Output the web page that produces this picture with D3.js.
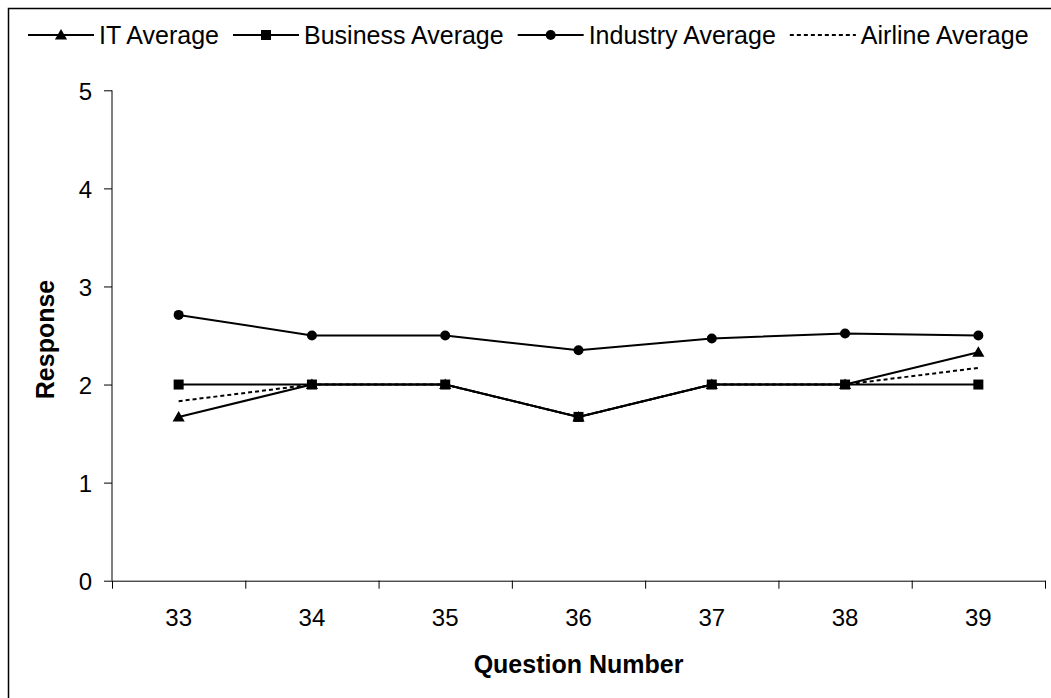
<!DOCTYPE html>
<html>
<head>
<meta charset="utf-8">
<script src="https://cdn.jsdelivr.net/npm/d3@7"></script>
<style>
  html, body { margin: 0; padding: 0; background: #fff; }
  svg { display: block; }
  text { font-family: "Liberation Sans", Arial, sans-serif; fill: #000; }
</style>
</head>
<body>
<svg id="chart" width="1051" height="698"></svg>
<script>
// Survey responses per question
const questions = ["33", "34", "35", "36", "37", "38", "39"];
const itAverage       = [1.67, 2.00, 2.00, 1.67, 2.00, 2.00, 2.33];
const businessAverage = [2.00, 2.00, 2.00, 1.67, 2.00, 2.00, 2.00];
const industryAverage = [2.71, 2.50, 2.50, 2.35, 2.47, 2.52, 2.50];
const airlineAverage  = [1.83, 2.00, 2.00, 1.67, 2.00, 2.00, 2.17];
const yTicks = [0, 1, 2, 3, 4, 5];

const series = [
  { name: "IT Average",       values: itAverage,       marker: "triangle", dash: null },
  { name: "Business Average", values: businessAverage, marker: "square",   dash: null },
  { name: "Industry Average", values: industryAverage, marker: "circle",   dash: null },
  { name: "Airline Average",  values: airlineAverage,  marker: null,       dash: "4,3" }
];

const svg = d3.select("#chart");
const plotLeft = 112, plotRight = 1045, plotTop = 90.3, plotBottom = 580.7;
const FONT = 24;
const LEGEND_FONT = 25;

// outer chart frame
svg.append("rect")
  .attr("x", 8.5).attr("y", 8.5)
  .attr("width", 1200).attr("height", 1000)
  .attr("fill", "none").attr("stroke", "#000").attr("stroke-width", 1.5);

const x = d3.scaleBand().domain(questions).range([plotLeft, plotRight]).padding(0);
const xEdge = d3.scaleLinear().domain([0, questions.length]).range([plotLeft, plotRight]);
const y = d3.scaleLinear().domain([0, 5]).range([plotBottom, plotTop]);

// y axis
const yAxis = svg.append("g")
  .attr("transform", `translate(${plotLeft},0)`)
  .call(d3.axisLeft(y).tickValues(yTicks).tickFormat(d3.format("d")).tickSize(8).tickPadding(12));
yAxis.select(".domain").attr("d", `M0,${plotTop}V${plotBottom}`).attr("stroke", "#000");
yAxis.selectAll(".tick line").attr("stroke", "#000");
yAxis.selectAll(".tick text")
  .attr("font-size", FONT).attr("font-family", null).attr("dy", "0.37em");

// x axis: tick marks at category boundaries
const xTickAxis = svg.append("g")
  .attr("transform", `translate(0,${plotBottom})`)
  .call(d3.axisBottom(xEdge).tickValues(d3.range(questions.length + 1)).tickFormat("").tickSize(8).tickSizeOuter(0));
xTickAxis.select(".domain").attr("stroke", "#000");
xTickAxis.selectAll(".tick line").attr("stroke", "#000");

// x axis labels centred in each category
const xLabelAxis = svg.append("g")
  .attr("transform", `translate(0,${plotBottom})`)
  .call(d3.axisBottom(x).tickSize(0).tickPadding(28));
xLabelAxis.select(".domain").remove();
xLabelAxis.selectAll(".tick text").attr("font-size", FONT).attr("font-family", null);

// axis titles
svg.append("text")
  .attr("x", (plotLeft + plotRight) / 2).attr("y", 673)
  .attr("text-anchor", "middle").attr("font-size", 25).attr("font-weight", "bold")
  .text("Question Number");
svg.append("text")
  .attr("transform", `translate(54,${(plotTop + plotBottom) / 2 + 4}) rotate(-90)`)
  .attr("text-anchor", "middle").attr("font-size", 25).attr("font-weight", "bold")
  .text("Response");

// markers
const triangle = d3.symbol().type(d3.symbolTriangle).size(64);
function drawMarker(g, type, cx, cy) {
  if (type === "circle") {
    g.append("circle").attr("cx", cx).attr("cy", cy).attr("r", 5).attr("fill", "#000");
  } else if (type === "square") {
    g.append("rect").attr("x", cx - 5).attr("y", cy - 5).attr("width", 10).attr("height", 10).attr("fill", "#000");
  } else if (type === "triangle") {
    g.append("path").attr("d", triangle()).attr("transform", `translate(${cx},${cy + 1})`).attr("fill", "#000");
  }
}

// series lines
const line = d3.line()
  .x((d, i) => x(questions[i]) + x.bandwidth() / 2)
  .y(d => y(d));

series.forEach(s => {
  const g = svg.append("g");
  g.append("path")
    .datum(s.values)
    .attr("d", line)
    .attr("fill", "none")
    .attr("stroke", "#000")
    .attr("stroke-width", 2)
    .attr("stroke-dasharray", s.dash);
  if (s.marker) {
    s.values.forEach((v, i) => drawMarker(g, s.marker, x(questions[i]) + x.bandwidth() / 2, y(v)));
  }
});

// legend along the top
const legend = svg.append("g");
let lx = 28;
const ly = 35;
series.forEach(s => {
  const item = legend.append("g");
  item.append("line")
    .attr("x1", lx).attr("x2", lx + 66).attr("y1", ly).attr("y2", ly)
    .attr("stroke", "#000").attr("stroke-width", 2)
    .attr("stroke-dasharray", s.dash);
  if (s.marker) drawMarker(item, s.marker, lx + 33, ly);
  const t = item.append("text")
    .attr("x", lx + 71).attr("y", ly + 9)
    .attr("font-size", LEGEND_FONT)
    .text(s.name);
  lx = lx + 71 + t.node().getComputedTextLength() + 14;
});
</script>
</body>
</html>
